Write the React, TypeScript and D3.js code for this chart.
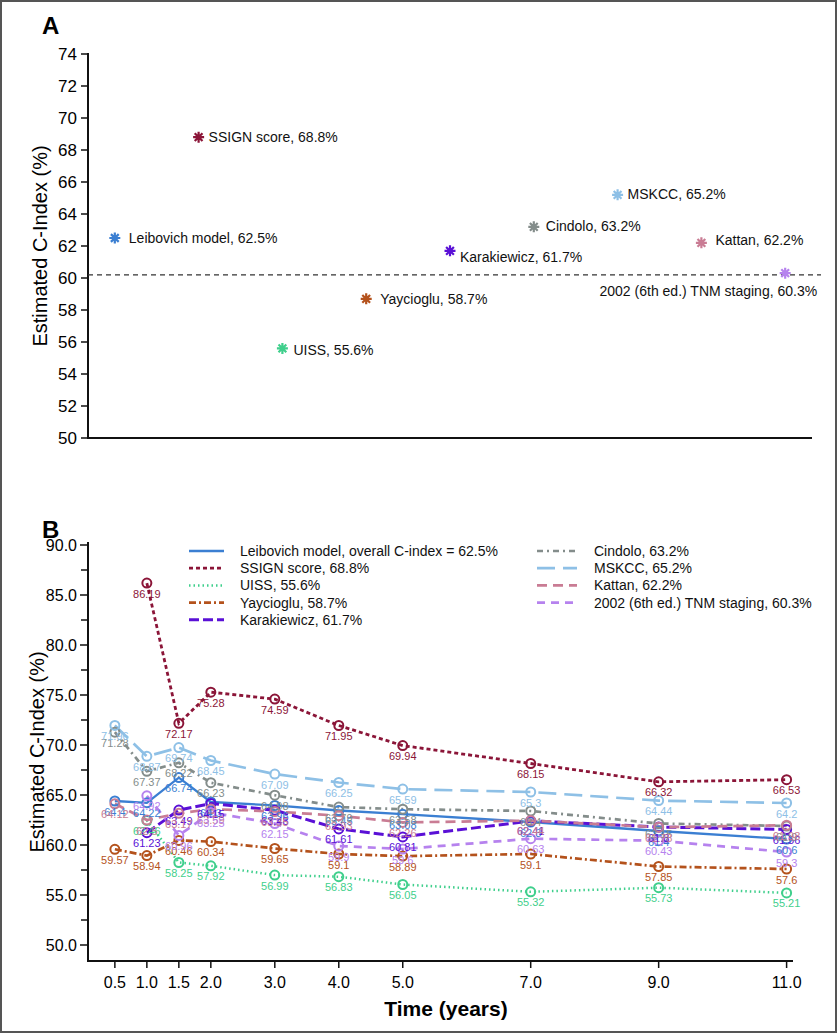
import React from "react";
import * as d3 from "d3";

// ---------- Panel A data ----------
const modelNames = [
  "Leibovich model",
  "SSIGN score",
  "UISS",
  "Yaycioglu",
  "Karakiewicz",
  "Cindolo",
  "MSKCC",
  "Kattan",
  "2002 (6th ed.) TNM staging",
];
const overallCIndex = [62.5, 68.8, 55.6, 58.7, 61.7, 63.2, 65.2, 62.2, 60.3];
const referenceLine = 60.2;
const panelATicks = [50, 52, 54, 56, 58, 60, 62, 64, 66, 68, 70, 72, 74];

// ---------- Panel B data ----------
const timePoints = [0.5, 1, 1.5, 2, 3, 4, 5, 7, 9, 11];
const timeTickLabels = ["0.5", "1.0", "1.5", "2.0", "3.0", "4.0", "5.0", "7.0", "9.0", "11.0"];
const leibovich = [64.4, 64.22, 66.74, 64.3, 63.96, 63.45, 63.08, 62.3, 61.4, 60.6];
const ssign = [null, 86.19, 72.17, 75.28, 74.59, 71.95, 69.94, 68.15, 66.32, 66.53];
const uiss = [null, 62.46, 58.25, 57.92, 56.99, 56.83, 56.05, 55.32, 55.73, 55.21];
const yaycioglu = [59.57, 58.94, 60.46, 60.34, 59.65, 59.1, 58.89, 59.1, 57.85, 57.6];
const karakiewicz = [null, 61.23, 63.49, 64.15, 63.48, 61.61, 60.81, 62.41, 61.8, 61.56];
const cindolo = [71.28, 67.37, 68.22, 66.23, 64.98, 63.79, 63.58, 63.4, 62.15, 61.9];
const mskcc = [71.96, 68.87, 69.74, 68.45, 67.09, 66.25, 65.59, 65.3, 64.44, 64.2];
const kattan = [64.12, 62.5, 63.17, 63.59, 63.35, 62.93, 62.26, 62.44, 61.78, 61.98];
const tnm = [null, 64.92, 60.96, 63.25, 62.15, 59.9, 59.6, 60.63, 60.43, 59.3];
const panelBMajorTicks = [50, 55, 60, 65, 70, 75, 80, 85, 90];
const panelBMinorTicks = [52.5, 57.5, 62.5, 67.5, 72.5, 77.5, 82.5, 87.5];

const legendLabels = [
  "Leibovich model, overall C-index = 62.5%",
  "SSIGN score, 68.8%",
  "UISS, 55.6%",
  "Yaycioglu, 58.7%",
  "Karakiewicz, 61.7%",
  "Cindolo, 63.2%",
  "MSKCC, 65.2%",
  "Kattan, 62.2%",
  "2002 (6th ed.) TNM staging, 60.3%",
];

// ---------- styles (not data) ----------
const colors = [
  "#3b7fd2",
  "#8b1538",
  "#3fcf8c",
  "#b4521c",
  "#5a10d6",
  "#848d8b",
  "#8ec0e6",
  "#c97c94",
  "#b682ee",
];
const dashes = ["", "4 3", "1.5 3", "7 3 2 3", "10 4", "6 4 2 4", "18 8", "10 6", "8 6"];
const widths = [2.3, 2.8, 2.5, 2.7, 3, 2.7, 2.7, 2.7, 2.7];
// label offsets for panel A [dx, dy, anchor]
const labelOffsetsA: [number, number, string][] = [
  [14, 5, "start"],
  [10, 5, "start"],
  [11, 7, "start"],
  [14, 5, "start"],
  [10, 11, "start"],
  [12, 4, "start"],
  [10, 4, "start"],
  [14, 2, "start"],
  [32, 23, "end"],
];

const seriesB = [leibovich, ssign, uiss, yaycioglu, karakiewicz, cindolo, mskcc, kattan, tnm];

const FONT = "'Liberation Sans', Arial, Helvetica, sans-serif";
const NARROW = "'Liberation Sans Narrow', 'Arial Narrow', 'Liberation Sans', Arial, sans-serif";

function starPath(r: number) {
  const a = r * 0.7071;
  return `M${-r},0L${r},0M0,${-r}L0,${r}M${-a},${-a}L${a},${a}M${-a},${a}L${a},${-a}`;
}

export default function App() {
  // Panel A scales
  const yA = d3.scaleLinear().domain([50, 74]).range([438, 54]);
  const xA = d3.scalePoint<string>().domain(modelNames).range([88, 812]).padding(0.32);

  // Panel B scales
  const yB = d3.scaleLinear().domain([50, 90]).range([945, 545]);
  const xB = d3.scaleLinear().domain([0.08, 11.1]).range([88, 793]);

  const lineGen = d3
    .line<[number, number | null]>()
    .defined((d) => d[1] != null)
    .x((d) => xB(d[0]))
    .y((d) => yB(d[1] as number));

  return (
    <svg
      width={837}
      height={1033}
      style={{ position: "absolute", left: 0, top: 0, background: "#fff" }}
      fontFamily={FONT}
    >
      <rect x={0} y={0} width={837} height={1033} fill="#fff" />
      <rect x={1} y={1} width={835} height={1031} fill="none" stroke="#555" strokeWidth={2} />

      {/* ---------------- Panel A ---------------- */}
      <text x={42} y={34} fontSize={24} fontWeight="bold">A</text>
      <text
        transform={`translate(47,${(147 + 345) / 2}) rotate(-90)`}
        textAnchor="middle"
        fontSize={20}
      >
        Estimated C-Index (%)
      </text>
      <line x1={88} x2={88} y1={yA(74) - 1} y2={yA(50) + 1} stroke="#111" strokeWidth={2} />
      <line x1={87} x2={812} y1={yA(50)} y2={yA(50)} stroke="#111" strokeWidth={2} />
      {panelATicks.map((t) => (
        <g key={t}>
          <line x1={81} x2={88} y1={yA(t)} y2={yA(t)} stroke="#111" strokeWidth={1.5} />
          <text x={77} y={yA(t) + 6} textAnchor="end" fontSize={17}>
            {t}
          </text>
        </g>
      ))}
      <line
        x1={88}
        x2={821}
        y1={yA(referenceLine)}
        y2={yA(referenceLine)}
        stroke="#333"
        strokeWidth={1.3}
        strokeDasharray="5 4"
      />
      {modelNames.map((n, i) => {
        const cx = xA(n) as number;
        const cy = yA(overallCIndex[i]);
        const [dx, dy, anchor] = labelOffsetsA[i];
        return (
          <g key={n}>
            <path
              d={starPath(5.5)}
              transform={`translate(${cx},${cy})`}
              stroke={colors[i]}
              strokeWidth={2.2}
              fill="none"
            />
            <text x={cx + dx} y={cy + dy} fontSize={14} textAnchor={anchor as any} fill="#111">
              {`${n}, ${overallCIndex[i]}%`}
            </text>
          </g>
        );
      })}

      {/* ---------------- Panel B ---------------- */}
      <text x={42} y={538} fontSize={24} fontWeight="bold">B</text>
      <text
        transform={`translate(44,752) rotate(-90)`}
        textAnchor="middle"
        fontSize={20}
      >
        Estimated C-Index (%)
      </text>
      <line x1={88} x2={88} y1={542} y2={yB(48.4)} stroke="#111" strokeWidth={2} />
      <line x1={87} x2={793} y1={yB(48.4)} y2={yB(48.4)} stroke="#111" strokeWidth={2} />
      {panelBMajorTicks.map((t) => (
        <g key={t}>
          <line x1={80} x2={88} y1={yB(t)} y2={yB(t)} stroke="#111" strokeWidth={1.5} />
          <text x={77} y={yB(t) + 6} textAnchor="end" fontSize={16}>
            {t.toFixed(1)}
          </text>
        </g>
      ))}
      {panelBMinorTicks.map((t) => (
        <line key={t} x1={81} x2={88} y1={yB(t)} y2={yB(t)} stroke="#111" strokeWidth={1.5} />
      ))}
      {timePoints.map((t, i) => (
        <g key={t}>
          <line x1={xB(t)} x2={xB(t)} y1={yB(48.4)} y2={yB(48.4) + 7} stroke="#111" strokeWidth={1.5} />
          <text x={xB(t)} y={988} textAnchor="middle" fontSize={16} fontFamily={NARROW}>
            {timeTickLabels[i]}
          </text>
        </g>
      ))}
      <text x={446} y={1016} textAnchor="middle" fontSize={21} fontWeight="bold" fontFamily={NARROW}>
        Time (years)
      </text>

      {/* lines */}
      {seriesB.map((s, i) => (
        <path
          key={"l" + i}
          d={lineGen(timePoints.map((t, j) => [t, s[j]] as [number, number | null])) || ""}
          fill="none"
          stroke={colors[i]}
          strokeWidth={widths[i]}
          strokeDasharray={dashes[i] || undefined}
        />
      ))}
      {/* markers */}
      {seriesB.map((s, i) =>
        timePoints.map((t, j) =>
          s[j] == null ? null : (
            <circle
              key={`c${i}-${j}`}
              cx={xB(t)}
              cy={yB(s[j] as number)}
              r={4.5}
              fill="none"
              stroke={colors[i]}
              strokeWidth={2}
            />
          )
        )
      )}
      {/* value labels */}
      {seriesB.map((s, i) =>
        timePoints.map((t, j) =>
          s[j] == null ? null : (
            <text
              key={`t${i}-${j}`}
              x={xB(t)}
              y={yB(s[j] as number) + 14.5}
              textAnchor="middle"
              fontSize={11}
              fontFamily={NARROW}
              fill={colors[i]}
            >
              {String(s[j])}
            </text>
          )
        )
      )}

      {/* legend */}
      {legendLabels.map((lab, i) => {
        const col = i < 5 ? 0 : 1;
        const row = i < 5 ? i : i - 5;
        const x0 = col === 0 ? 189 : 537;
        const x1 = col === 0 ? 224 : 577;
        const tx = col === 0 ? 240 : 594;
        const y = 551 + row * 17.2;
        return (
          <g key={lab}>
            <line
              x1={x0}
              x2={x1}
              y1={y}
              y2={y}
              stroke={colors[i]}
              strokeWidth={widths[i]}
              strokeDasharray={dashes[i] || undefined}
            />
            <text x={tx} y={y + 5} fontSize={14} fill="#111">
              {lab}
            </text>
          </g>
        );
      })}
    </svg>
  );
}
